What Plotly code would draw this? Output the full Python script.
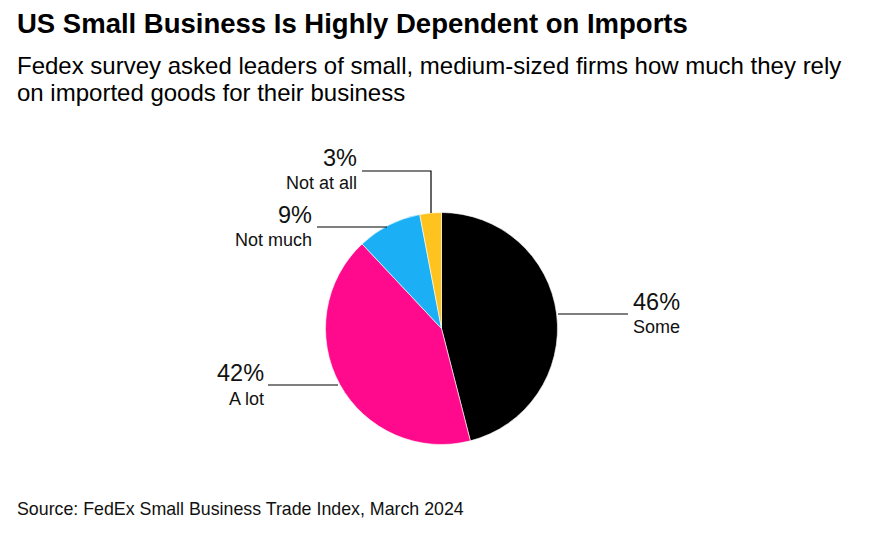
import plotly.graph_objects as go

categories = ["Some", "A lot", "Not much", "Not at all"]
values = [46, 42, 9, 3]
colors = ["#000000", "#FF0A8C", "#1BB0F5", "#FFC31F"]

# page has an 8px body margin; figure is sized to fill the rest of the window
OFF = 8
W, H = 875 - 2 * OFF, 537 - 2 * OFF

def px(x):
    return (x - OFF) / W

def py(y):
    return 1 - (y - OFF) / H

cx, cy, r = 441.5, 328.5, 116

fig = go.Figure(go.Pie(
    labels=categories,
    values=values,
    sort=False,
    direction="clockwise",
    rotation=0,
    marker=dict(colors=colors, line=dict(color="#ffffff", width=0.6)),
    textinfo="none",
    hoverinfo="label+percent",
    showlegend=False,
    domain=dict(x=[px(cx - r), px(cx + r)], y=[py(cy + r), py(cy - r)]),
))

FONT = "Liberation Sans, Arial, sans-serif"

# label positions (pixel): x, percent-line centre y, name-line centre y, alignment
label_pos = {
    0: (631, 302, 327, "left"),
    1: (266, 373, 399, "right"),
    2: (314, 215, 240, "right"),
    3: (359, 158, 183, "right"),
}
annotations = []
for i, (x, y1, y2, al) in label_pos.items():
    annotations.append(dict(
        x=px(x), y=py(y1), xref="paper", yref="paper",
        text=f"{values[i]}%", showarrow=False,
        xanchor=al, yanchor="middle",
        font=dict(family=FONT, size=23.5, color="#111111"),
    ))
    annotations.append(dict(
        x=px(x), y=py(y2), xref="paper", yref="paper",
        text=categories[i], showarrow=False,
        xanchor=al, yanchor="middle",
        font=dict(family=FONT, size=18, color="#111111"),
    ))

annotations += [
    dict(x=px(15), y=py(23), xref="paper", yref="paper", xanchor="left", yanchor="middle",
         text="<b>US Small Business Is Highly Dependent on Imports</b>", showarrow=False,
         font=dict(family=FONT, size=27.5, color="#000000")),
    dict(x=px(15), y=py(65), xref="paper", yref="paper", xanchor="left", yanchor="middle",
         text="Fedex survey asked leaders of small, medium-sized firms how much they rely",
         showarrow=False, font=dict(family=FONT, size=24, color="#000000")),
    dict(x=px(15), y=py(93), xref="paper", yref="paper", xanchor="left", yanchor="middle",
         text="on imported goods for their business",
         showarrow=False, font=dict(family=FONT, size=24, color="#000000")),
    dict(x=px(15), y=py(509), xref="paper", yref="paper", xanchor="left", yanchor="middle",
         text="Source: FedEx Small Business Trade Index, March 2024", showarrow=False,
         font=dict(family=FONT, size=17.8, color="#111111")),
]

line = dict(color="#000000", width=1.2)
shapes = [
    dict(type="line", xref="paper", yref="paper", x0=px(558), x1=px(628), y0=py(314), y1=py(314), line=line),
    dict(type="line", xref="paper", yref="paper", x0=px(268), x1=px(338), y0=py(385), y1=py(385), line=line),
    dict(type="line", xref="paper", yref="paper", x0=px(317), x1=px(387), y0=py(227), y1=py(227), line=line),
    dict(type="path", xref="paper", yref="paper",
         path=f"M {px(362)},{py(171)} L {px(431)},{py(171)} L {px(431)},{py(213)}", line=line),
]

fig.update_layout(
    width=W, height=H,
    margin=dict(l=0, r=0, t=0, b=0),
    paper_bgcolor="#ffffff", plot_bgcolor="#ffffff",
    annotations=annotations, shapes=shapes,
)

fig.write_html("out.html")
